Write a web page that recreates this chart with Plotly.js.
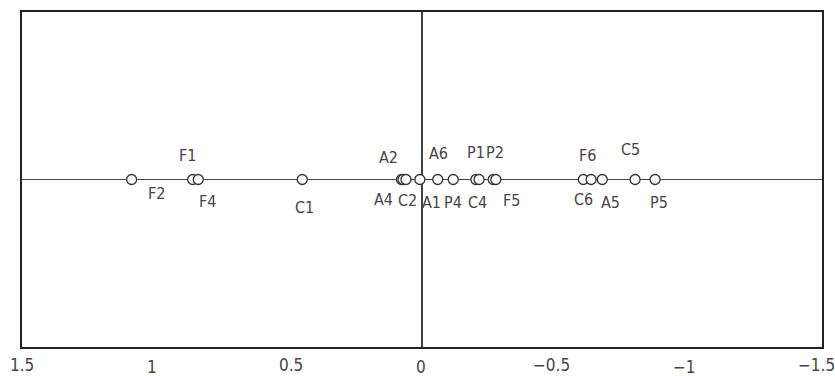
<!DOCTYPE html>
<html>
<head>
<meta charset="utf-8">
<script src="https://cdn.plot.ly/plotly-3.0.1.min.js"></script>
<style>html,body{margin:0;padding:0;background:#fff;}#chart{width:835px;height:376px;}</style>
</head>
<body>
<div id="chart"></div>
<script>
// Data
var labels = ["F2","F1","F4","C1","A4","A2","C2","A1","A6","P4","P1","C4","P2","F5","C6","F6","A5","C5","P5"];
var xValues = [1.089,0.860,0.839,0.449,0.077,0.071,0.060,0.008,-0.059,-0.117,-0.202,-0.214,-0.267,-0.277,-0.605,-0.634,-0.676,-0.799,-0.874];
var yValues = [0,0,0,0,0,0,0,0,0,0,0,0,0,0,0,0,0,0,0];
var tickValues = [1.5,1,0.5,0,-0.5,-1,-1.5];
var tickLabels = ["1.5","1","0.5","0","\u22120.5","\u22121","\u22121.5"];

// Layout helpers (label placement in pixels)
var labelDx = [25,-5,9,2,-18,-15,1,12,1,0,0,-2,2,16,0,-4,8,-5,4];
var labelDy = [-14,24,-22,-27.5,-19.5,22.5,-21,-22.5,26,-22.5,27.5,-22.5,27.5,-21,-19.5,24,-22.5,30.5,-22.5];
var tickDy = [-18,-20,-18,-20,-18,-20,-18];
var tickDx = [0,-3.5,2,-1,-4,-4,-6];

var fontFamily = "'Liberation Sans Narrow', 'DejaVu Sans Condensed', Roboto, sans-serif";
var txtFont = {family:fontFamily, size:16, color:"#444"};
var tickFont = {family:fontFamily, size:17, color:"#444"};

var annotations = [];
for (var i = 0; i < labels.length; i++) {
  annotations.push({x:xValues[i], y:yValues[i], xref:"x", yref:"y", text:labels[i],
    showarrow:false, xshift:labelDx[i], yshift:labelDy[i], font:txtFont,
    xanchor:"center", yanchor:"middle"});
}
for (var j = 0; j < tickValues.length; j++) {
  annotations.push({x:tickValues[j], y:0, xref:"x", yref:"paper", text:tickLabels[j],
    showarrow:false, xshift:tickDx[j], yshift:tickDy[j], font:tickFont,
    xanchor:"center", yanchor:"middle", borderpad:0});
}

var trace = {
  x: xValues, y: yValues, type:"scatter", mode:"markers",
  marker:{symbol:"circle", size:10, color:"#fff", line:{color:"#333", width:1.3}},
  hoverinfo:"none", cliponaxis:false
};

var layout = {
  width:835, height:376,
  margin:{l:22, r:13, t:12, b:29},
  paper_bgcolor:"#fff", plot_bgcolor:"#fff",
  showlegend:false,
  xaxis:{range:[1.5,-1.5], showgrid:false, showticklabels:false, ticks:"",
    zeroline:true, zerolinecolor:"#444", zerolinewidth:1.3,
    showline:true, mirror:true, linecolor:"#222", linewidth:2},
  yaxis:{range:[-1,1], showgrid:false, showticklabels:false, ticks:"",
    zeroline:true, zerolinecolor:"#444", zerolinewidth:1.3,
    showline:true, mirror:true, linecolor:"#222", linewidth:2},
  annotations: annotations
};

Plotly.newPlot("chart", [trace], layout, {staticPlot:true, displayModeBar:false});
</script>
</body>
</html>
